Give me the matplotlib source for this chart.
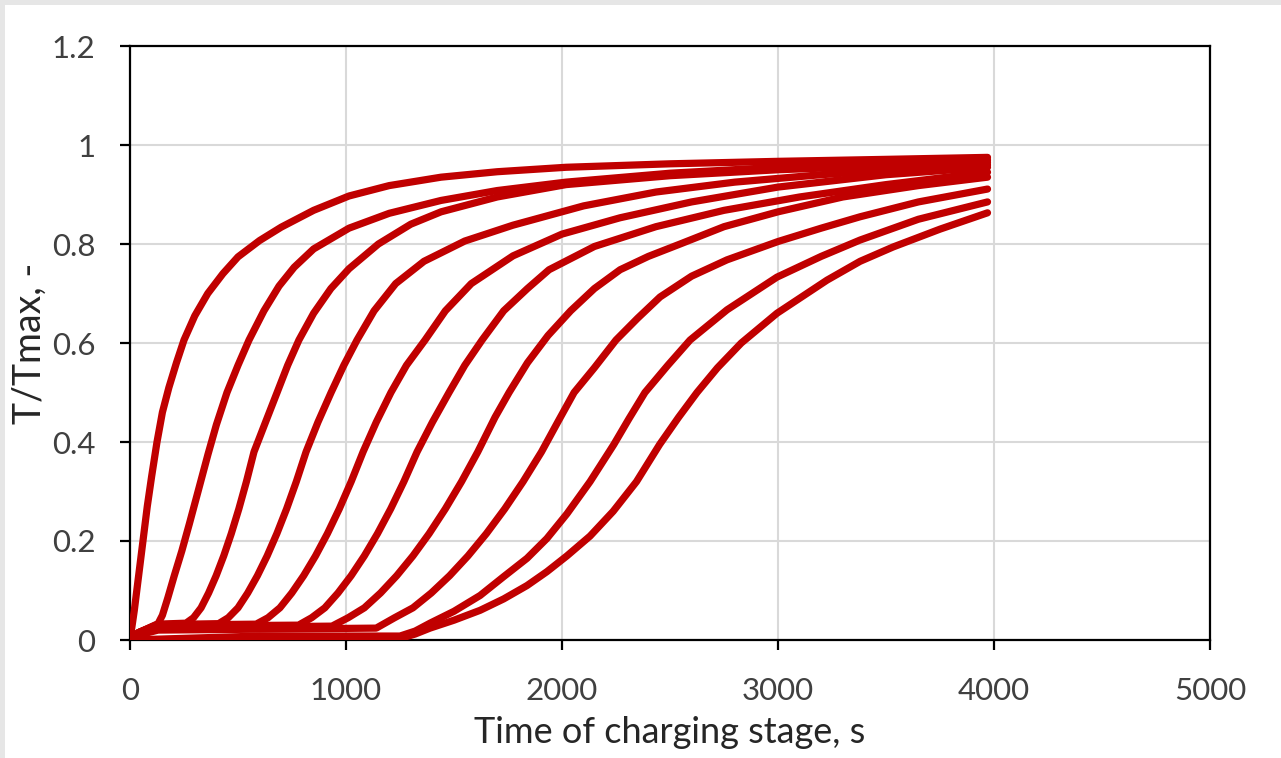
import matplotlib
matplotlib.use("Agg")
import matplotlib.pyplot as plt
from matplotlib.patches import Rectangle
from matplotlib.ticker import FuncFormatter

# curves, one (time, T/Tmax) list pair per curve
c1_t = [0, 20, 40, 60, 80, 100, 125, 150, 180, 215, 250, 300, 360, 430, 500, 600, 700,
        850, 1014, 1200, 1440, 1700, 2019, 2500, 3000, 3500, 3970]
c1_y = [0, 0.06, 0.13, 0.2, 0.27, 0.33, 0.4, 0.46, 0.51, 0.56, 0.606, 0.655, 0.70, 0.74,
        0.774, 0.807, 0.834, 0.868, 0.897, 0.918, 0.935, 0.946, 0.955, 0.962, 0.967, 0.971, 0.975]

c2_t = [0, 40, 130, 150, 175, 205, 240, 275, 315, 361, 400, 449, 500, 551, 620, 690, 760, 850,
        1014, 1200, 1440, 1700, 2019, 2500, 3000, 3500, 3970]
c2_y = [0, 0.015, 0.033, 0.05, 0.085, 0.13, 0.18, 0.235, 0.3, 0.375, 0.435, 0.5, 0.555, 0.606,
        0.665, 0.715, 0.753, 0.79, 0.832, 0.862, 0.888, 0.908, 0.925, 0.943, 0.955, 0.963, 0.97]

c3_t = [0, 40, 130, 259, 294, 329, 364, 399, 434, 469, 504, 539, 574, 630, 681, 730, 782, 850,
        930, 1014, 1150, 1300, 1440, 1700, 2019, 2500, 3000, 3500, 3970]
c3_y = [0, 0.015, 0.032, 0.034, 0.045, 0.065, 0.095, 0.13, 0.17, 0.215, 0.265, 0.32, 0.38, 0.443,
        0.5, 0.555, 0.606, 0.66, 0.71, 0.75, 0.8, 0.84, 0.865, 0.895, 0.92, 0.938, 0.95, 0.958, 0.965]

c4_t = [0, 40, 130, 410, 455, 500, 545, 590, 635, 680, 725, 770, 815, 870, 931, 990, 1051, 1130,
        1230, 1361, 1550, 1773, 2100, 2435, 2800, 3200, 3600, 3970]
c4_y = [0, 0.015, 0.031, 0.033, 0.045, 0.065, 0.095, 0.13, 0.17, 0.215, 0.265, 0.32, 0.38, 0.44,
        0.5, 0.555, 0.606, 0.665, 0.72, 0.765, 0.806, 0.838, 0.877, 0.905, 0.925, 0.94, 0.952, 0.96]

c5_t = [0, 40, 130, 584, 639, 694, 749, 804, 859, 914, 969, 1024, 1079, 1140, 1208, 1280, 1366,
        1460, 1580, 1773, 2000, 2269, 2600, 3000, 3500, 3970]
c5_y = [0, 0.015, 0.03, 0.032, 0.045, 0.065, 0.095, 0.13, 0.17, 0.215, 0.265, 0.32, 0.38, 0.44,
        0.5, 0.555, 0.606, 0.665, 0.72, 0.776, 0.82, 0.853, 0.885, 0.915, 0.94, 0.955]

c6_t = [0, 40, 130, 780, 841, 902, 963, 1024, 1085, 1146, 1207, 1268, 1329, 1400, 1477, 1550,
        1630, 1730, 1840, 1940, 2150, 2435, 2750, 3100, 3500, 3970]
c6_y = [0, 0.015, 0.028, 0.03, 0.045, 0.065, 0.095, 0.13, 0.17, 0.215, 0.265, 0.32, 0.38, 0.44,
        0.5, 0.555, 0.606, 0.665, 0.71, 0.748, 0.795, 0.835, 0.868, 0.895, 0.92, 0.945]

c7_t = [0, 40, 130, 935, 1010, 1085, 1160, 1235, 1310, 1385, 1460, 1535, 1610, 1690, 1755,
        1840, 1935, 2040, 2150, 2269, 2400, 2547, 2750, 3000, 3300, 3650, 3970]
c7_y = [0, 0.012, 0.025, 0.028, 0.045, 0.065, 0.095, 0.13, 0.17, 0.215, 0.265, 0.32, 0.38,
        0.45, 0.5, 0.56, 0.615, 0.665, 0.71, 0.748, 0.775, 0.80, 0.835, 0.865, 0.895, 0.918, 0.935]

c8_t = [0, 40, 130, 1140, 1225, 1310, 1395, 1480, 1565, 1650, 1735, 1820, 1905, 1980, 2056,
        2150, 2250, 2350, 2454, 2600, 2764, 3000, 3200, 3380, 3650, 3970]
c8_y = [0, 0.01, 0.02, 0.024, 0.045, 0.065, 0.095, 0.13, 0.17, 0.215, 0.265, 0.32, 0.38, 0.44,
        0.5, 0.55, 0.606, 0.65, 0.693, 0.735, 0.768, 0.805, 0.832, 0.855, 0.885, 0.911]

c9_t = [0, 600, 1250, 1320, 1389, 1500, 1621, 1730, 1838, 1930, 2023, 2130, 2240, 2310, 2384,
        2490, 2593, 2764, 2995, 3200, 3380, 3650, 3970]
c9_y = [0, 0.008, 0.008, 0.018, 0.034, 0.058, 0.09, 0.128, 0.165, 0.205, 0.255, 0.32, 0.395,
        0.447, 0.5, 0.555, 0.606, 0.667, 0.733, 0.775, 0.808, 0.85, 0.885]

c10_t = [0, 600, 1250, 1320, 1389, 1500, 1621, 1730, 1838, 1930, 2023, 2130, 2237, 2345, 2452,
         2540, 2625, 2720, 2830, 2995, 3227, 3380, 3533, 3750, 3970]
c10_y = [0, 0.003, 0.003, 0.012, 0.024, 0.04, 0.06, 0.083, 0.11, 0.138, 0.17, 0.21, 0.26, 0.32,
         0.395, 0.45, 0.5, 0.55, 0.6, 0.66, 0.727, 0.765, 0.794, 0.83, 0.863]

curves = [
    (c1_t, c1_y), (c2_t, c2_y), (c3_t, c3_y), (c4_t, c4_y), (c5_t, c5_y),
    (c6_t, c6_y), (c7_t, c7_y), (c8_t, c8_y), (c9_t, c9_y), (c10_t, c10_y),
]

x_ticks = [0, 1000, 2000, 3000, 4000, 5000]
y_ticks = [0, 0.2, 0.4, 0.6, 0.8, 1.0, 1.2]

plt.rcParams["font.family"] = ["Lato", "DejaVu Sans"]

fig = plt.figure(figsize=(12.81, 7.58), dpi=100, facecolor="white")
# thin grey frame along the top and left edges
for rect in [(0, 1 - 5 / 758, 1, 5 / 758), (0, 0, 5 / 1281, 1)]:
    fig.patches.append(Rectangle(rect[:2], rect[2], rect[3], transform=fig.transFigure,
                                 facecolor="#e6e6e6", edgecolor="none"))

ax = fig.add_axes([130 / 1281, 1 - 640 / 758, 1080 / 1281, 594 / 758])
ax.set_facecolor("white")

for t, y in curves:
    ax.plot(t, y, color="#c00000", lw=5.2, solid_capstyle="round", solid_joinstyle="round", zorder=3)

ax.set_xlim(0, 5000)
ax.set_ylim(0, 1.2)
ax.set_xticks(x_ticks)
ax.set_yticks(y_ticks)
ax.yaxis.set_major_formatter(FuncFormatter(lambda v, _: f"{v:g}"))
ax.grid(True, color="#d9d9d9", lw=1.5, zorder=0)
ax.set_axisbelow(True)

for side in ["left", "right", "top", "bottom"]:
    ax.spines[side].set_color("black")
    ax.spines[side].set_linewidth(1.6)

ax.tick_params(axis="both", direction="out", length=7, width=1.6, labelsize=22.5,
               labelcolor="#404040")
ax.tick_params(axis="x", pad=20)
ax.tick_params(axis="y", pad=18)

ax.set_xlabel("Time of charging stage, s", fontsize=26, color="#262626")
ax.set_ylabel("T/Tmax, -", fontsize=27, color="#262626")
ax.xaxis.set_label_coords(0.5, -0.128)
ax.yaxis.set_label_coords(-0.076, 0.5)

fig.savefig("out.png", dpi=100, facecolor=fig.get_facecolor())
